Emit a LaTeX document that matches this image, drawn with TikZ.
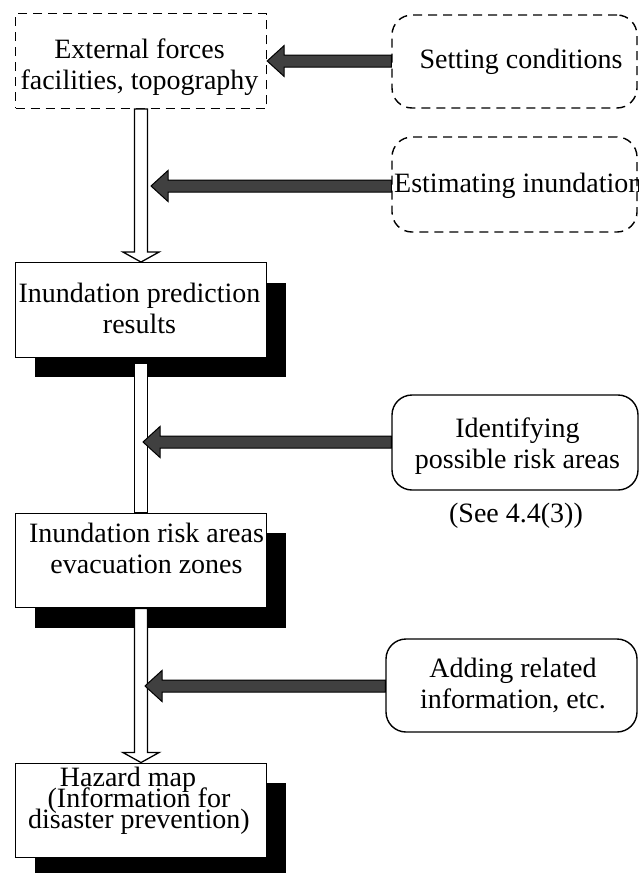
\documentclass[tikz,border=0pt]{standalone}
\usepackage{fontspec}
\setmainfont{Liberation Serif}
\usetikzlibrary{calc,shadows}
\definecolor{arrowgray}{RGB}{64,64,64}

% Dark block arrow pointing left: #1 = tail point (right), #2 = tip (left)
\newcommand\grayarrow[2]{%
  \draw[grayarr] ($(#1)+(0,-6)$) -- ($(#2)+(17,-6)$) -- ($(#2)+(17,-15.5)$)
    -- (#2) -- ($(#2)+(17,15.5)$) -- ($(#2)+(17,6)$) -- ($(#1)+(0,6)$) -- cycle;}
% Hollow block arrow pointing down: #1 = top of shaft, #2 = tip
\newcommand\hollowarrow[2]{%
  \draw[hollow] ($(#1)+(-6.5,0)$) -- ($(#2)+(-6.5,-10)$) -- ($(#2)+(-18,-10)$)
    -- (#2) -- ($(#2)+(18,-10)$) -- ($(#2)+(6.5,-10)$) -- ($(#1)+(6.5,0)$) -- cycle;}

\begin{document}
\begin{tikzpicture}[x=1pt,y=-1pt,
  box/.style={draw, line width=1.4pt, minimum width=251pt, minimum height=94.5pt,
    inner sep=0pt, fill=white},
  shadowbox/.style={box, drop shadow={shadow xshift=19pt, shadow yshift=-20pt,
    fill=black, opacity=1}},
  dashbox/.style={box, dash pattern=on 9pt off 6pt},
  roundbox/.style={draw, line width=1.4pt, rounded corners=20pt, inner sep=0pt},
  dashround/.style={roundbox, dash pattern=on 9pt off 6pt},
  txt/.style={align=center, inner sep=0pt, font=\fontsize{28}{31}\selectfont},
  grayarr/.style={draw=black, fill=arrowgray, line width=1pt, line join=miter},
  hollow/.style={draw=black, fill=white, line width=1.3pt}]

\path[use as bounding box, fill=white] (0,0) rectangle (639,873);

% left column: process boxes
\node[dashbox] (b1) at (141,61) {};
\node[shadowbox] (b2) at (141,310) {};
\node[shadowbox] (b3) at (141,560.5) {};
\node[shadowbox] (b4) at (141,810.5) {};

\node[txt] (t1) at (139.5,67) {External forces\\facilities, topography};
\node[txt] (t2) at (139.5,308) {Inundation prediction\\results};
\node[txt] (t3) at (146.5,548) {Inundation risk areas\\evacuation zones};
\node[txt] (t4) at (139,801) {\mbox{Hazard map\hspace{22pt}}\\[-10pt](Information for\\[-10pt]disaster prevention)};

% right column: inputs
\node[dashround, minimum width=245pt, minimum height=93pt] (set) at (514.5,61.5) {};
\node[dashround, minimum width=245pt, minimum height=95pt] (est) at (514.5,184.5) {};
\node[roundbox, minimum width=246pt, minimum height=95pt] (idf) at (515,442.5) {};
\node[roundbox, minimum width=251pt, minimum height=93pt] (add) at (511.5,685.5) {};

\node[txt] (tset) at (521,61.5) {Setting conditions};
\node[txt, anchor=west] (test) at (394,185.5) {Estimating inundation};
\node[txt] (tidf) at (517.5,446) {Identifying\\possible risk areas};
\node[txt] (tadd) at (513,685) {Adding related\\information, etc.};
\node[txt] (see) at (516,516) {(See 4.4(3))};

% main flow
\hollowarrow{b1.south}{b2.north}
\draw[hollow] ($(b2.south)+(-6.5,5)$) rectangle ($(b3.north)+(6.5,0)$);
\hollowarrow{b3.south}{b4.north}

% inputs joining the flow
\coordinate (p1) at (b1.east);
\coordinate (p2) at (151,186);
\coordinate (p3) at (143,442);
\coordinate (p4) at (145,686);
\coordinate (q1) at (set.west |- p1);
\coordinate (q2) at (est.west |- p2);
\coordinate (q3) at (idf.west |- p3);
\coordinate (q4) at (add.west |- p4);
\grayarrow{q1}{p1}
\grayarrow{q2}{p2}
\grayarrow{q3}{p3}
\grayarrow{q4}{p4}
\end{tikzpicture}
\end{document}
